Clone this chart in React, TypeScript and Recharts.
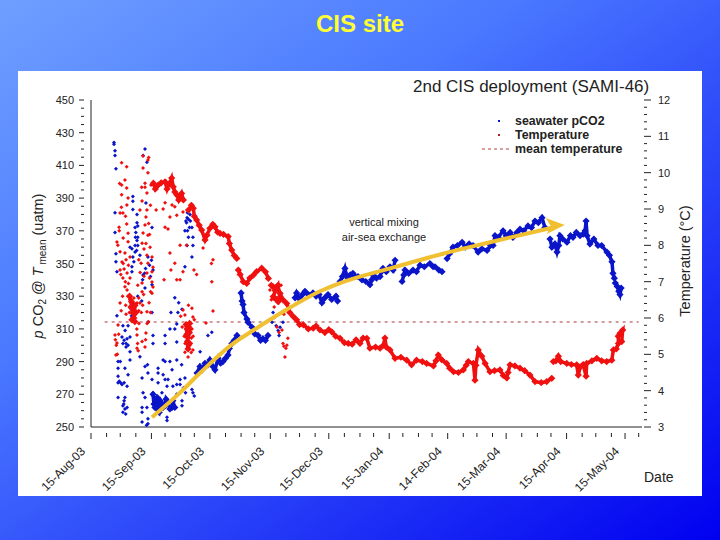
import { ComposedChart, Line, Scatter, XAxis, YAxis, Legend } from 'recharts'

type P = [number, number]

const dateTicks = [0, 31, 61, 92, 122, 153, 183, 213, 244, 274]
const dateLabels = ['15-Aug-03', '15-Sep-03', '15-Oct-03', '15-Nov-03', '15-Dec-03', '15-Jan-04', '14-Feb-04', '15-Mar-04', '15-Apr-04', '15-May-04']
const minorDateTicks = [8, 15, 23, 38, 46, 53, 69, 77, 84, 100, 107, 115, 130, 138, 145, 160, 168, 175, 191, 198, 206, 221, 229, 236, 252, 259, 267, 281]
const pco2Ticks = [250, 255, 260, 265, 270, 275, 280, 285, 290, 295, 300, 305, 310, 315, 320, 325, 330, 335, 340, 345, 350, 355, 360, 365, 370, 375, 380, 385, 390, 395, 400, 405, 410, 415, 420, 425, 430, 435, 440, 445, 450]
const tempTicks = [3, 3.2, 3.4, 3.6, 3.8, 4, 4.2, 4.4, 4.6, 4.8, 5, 5.2, 5.4, 5.6, 5.8, 6, 6.2, 6.4, 6.6, 6.8, 7, 7.2, 7.4, 7.6, 7.8, 8, 8.2, 8.4, 8.6, 8.8, 9, 9.2, 9.4, 9.6, 9.8, 10, 10.2, 10.4, 10.6, 10.8, 11, 11.2, 11.4, 11.6, 11.8, 12]

// scattered early readings, [day since 15-Aug, uatm]
const bluePoints: P[] = [
  [11.8, 424], [11.8, 423], [12.3, 419], [12.3, 416], [12.8, 408], [27.7, 420], [26.7, 416], [28.7, 412], [21.5, 391], [21.5, 388], [28.2, 387], [21.5, 383],
  [12.3, 381], [23.6, 380], [23.6, 375], [22.6, 372], [24, 373], [31.3, 372], [12.3, 369], [23.6, 364], [22.6, 361], [24, 366], [20, 360], [22.6, 357], [21, 359], [25.1, 355],
  [12.8, 356], [12.8, 351], [21, 348], [13.3, 345], [26.7, 343], [27.5, 344], [29.2, 354], [31.8, 346], [49.3, 378], [50.8, 380], [48.2, 370], [51.8, 372], [52.3, 366],
  [49.3, 361], [52.3, 361], [51.8, 354], [48.2, 348], [49, 375], [50, 377], [49.5, 370], [43, 329], [45, 326], [46.7, 322], [41, 320], [44.6, 320], [44, 313], [43, 310],
  [40.5, 310], [38, 306], [31.8, 306], [31.8, 301], [38, 301], [44, 302], [29.2, 314], [31.3, 320], [37, 291], [38, 290], [40.5, 290], [44, 291], [27.7, 287], [29, 288],
  [34.4, 286], [29.2, 283], [34.4, 283], [37, 282], [41.6, 285], [26.2, 280], [31.3, 279], [38, 279], [39.5, 279], [45.7, 279], [48.2, 280], [34.4, 277], [39, 275],
  [42, 275], [44, 276], [45.7, 276], [26.7, 271], [27.7, 268], [31.8, 271], [36.4, 271], [44, 270], [52.3, 271], [51.8, 273], [53, 269], [26.2, 262], [28.7, 262],
  [26.2, 259], [29.2, 255], [29.2, 252], [28.5, 251], [26.2, 253], [39, 256], [39, 254], [46.7, 263], [46.7, 266], [16.4, 263], [18.5, 262], [16.4, 259], [17, 266], [13.9, 268], [17.4, 268],
  [13.9, 277], [15.9, 276], [17, 277], [18.5, 275], [13.9, 281], [19, 282], [13.9, 286], [17.4, 286], [13.9, 290], [15, 290], [20, 291], [20, 296], [25.1, 293],
  [16.4, 301], [18.5, 304], [15.9, 305], [20, 305], [18, 301], [17, 303], [16.4, 312], [19, 312], [13.3, 318], [20, 323], [27.7, 335], [31.3, 337], [24, 330], [26, 327], [92.9, 314], [93.4, 320], [94, 317],
  [96, 309], [95, 312], [98.5, 314], [97, 311], [96.5, 306], [60, 306], [62, 308], [56, 296],
  [16.8, 264], [17.4, 261], [17.8, 258], [14.5, 278], [15.2, 277], [24, 361], [23, 369], [22.8, 366], [23.4, 358], [21.5, 354], [21, 345], [22, 351], [26.5, 340], [28, 347], [31, 352], [30.5, 342], [30, 349],
  [17.5, 309], [18, 299], [19, 300], [20.8, 318], [21.5, 325], [22, 316], [50, 366], [50.5, 372], [49.5, 381], [48.7, 376], [51, 376], [46.5, 288], [47.5, 274], [48.5, 271],
]
const blueBlob: P[] = [[31.8, 270], [32.3, 264], [33, 266], [32.8, 262], [34, 268], [35.4, 266], [33.9, 261], [35, 259], [36, 265], [37, 262], [38, 263], [38.5, 267], [39.5, 265], [40.5, 261], [41.6, 262], [42, 266], [43, 262]]
const blueTraceA: P[] = [[54.4, 283], [55.9, 287], [57, 285], [58.5, 289], [60, 288], [61, 291], [62.5, 287], [63.6, 285], [65.2, 292], [66.5, 289], [67.7, 290], [69, 292], [70.3, 294], [71, 298], [72.3, 301], [73.5, 303], [74.9, 306]]
const blueTraceB: P[] = [[77, 332], [77.5, 327], [78, 325], [78.5, 320], [80, 316], [80.6, 314], [82.6, 311], [84, 307], [85.7, 306], [87, 303], [88.2, 304], [89.5, 303], [90.8, 306]]
const blueTraceC: P[] = [[104.7, 329], [105.5, 332], [107.2, 328], [108.5, 331], [109.8, 333], [111.5, 331], [113.9, 332], [115.5, 330], [117, 331], [118.5, 326], [120, 329], [121.6, 331], [123.5, 328], [125.7, 330], [126.5, 327]]
const blueTraceD: P[] = [[127.8, 339], [129, 342], [130.3, 347], [131, 343], [131.9, 341], [133, 343], [134.4, 344], [135.5, 342], [137, 342], [139, 340], [141, 339], [143.1, 337], [144, 340], [144.7, 343], [146.5, 341], [148.3, 342], [149, 345], [149.8, 347], [151.5, 345], [153.4, 348], [155, 346], [156, 352]]
const blueTraceE: P[] = [[159.6, 339], [160.5, 343], [161.1, 346], [163, 344], [165.2, 346], [167, 345], [168.8, 349], [171, 348], [173.9, 350], [175.5, 348], [176.5, 348], [178.5, 346], [180.1, 345]]
const blueTraceF: P[] = [[182.7, 353], [184, 356], [185.7, 360], [188, 361], [190.4, 363], [192, 360], [194, 362], [196, 361], [198.6, 357], [200.5, 359], [203.2, 358], [205, 361], [206.3, 361], [207.3, 367], [209, 366], [211.4, 370], [213, 367], [215, 369], [216.5, 366], [218.5, 369], [220.1, 371], [222, 370], [224.2, 373], [226, 372], [227.8, 376], [229.5, 375], [231.4, 378], [232.9, 372]]
const blueTraceG: P[] = [[235.5, 365], [236.5, 360], [238, 362], [239.1, 357], [240, 361], [240.6, 367], [242, 365], [244.2, 363], [246, 367], [247.3, 366], [249, 369], [250.9, 367], [252.5, 368], [253.5, 370], [254, 376], [254.5, 367], [256, 362], [258, 365], [260.1, 361], [262, 361], [264.7, 357], [266, 355], [267.3, 351], [267.8, 344], [268.5, 341]]
const blueTraceH: P[] = [[269, 338], [270, 336], [270.8, 333], [271.4, 331], [272, 335]]

// temperature trace, [day, deg C]
const redTraceA: P[] = [[32, 9.71], [33, 9.55], [34.5, 9.66], [36, 9.72], [38, 9.75], [39, 9.55], [39.7, 9.66], [40.5, 9.72], [41.4, 9.85], [42.2, 9.61], [43, 9.47], [44, 9.39], [45, 9.25], [46.5, 9.43], [47.4, 9.25]]
const redTraceB: P[] = [[50, 8.97], [51.5, 9.1], [52.5, 9.02], [53, 8.8], [54.2, 8.7], [55.5, 8.55], [56.8, 8.42], [58.5, 8.15], [59.5, 8.28], [61, 8.47], [62.5, 8.58], [63.6, 8.51], [65, 8.36], [66.2, 8.33], [68, 8.3], [70.4, 8.24], [71, 8.05], [72.2, 7.87], [73.5, 7.72], [74.8, 7.64]]
const redTraceC: P[] = [[75.6, 7.32], [76.5, 7.2], [78.1, 7], [79.9, 6.95], [81.5, 7.1], [83.3, 7.18], [85, 7.28], [87.6, 7.37], [89.5, 7.27], [91, 7.09]]
const redTraceD: P[] = [[93.5, 6.86], [95.3, 6.86], [93.5, 6.59], [96, 6.45], [97, 6.68], [98.5, 6.5], [100.4, 6.4], [102, 6.15], [103.8, 6.04], [105.5, 5.95], [107, 5.82], [109, 5.81], [111.5, 5.7], [114, 5.72], [115.5, 5.78], [117.5, 5.67], [120, 5.6], [122, 5.68], [123.5, 5.62], [125.5, 5.5], [127.8, 5.44], [130, 5.32], [132, 5.3], [134, 5.28], [136, 5.4], [138, 5.3], [139.6, 5.45], [141.5, 5.44], [143.1, 5.17], [146, 5.2], [148.3, 5.17], [150, 5.25], [150.8, 5.45], [151.5, 5.2], [153.4, 5.12], [156, 4.89], [159, 4.92], [162, 4.84], [164.5, 4.71], [167, 4.84], [170, 4.8], [172.2, 4.75], [175.7, 4.68], [177, 4.82], [178.2, 4.98], [180, 4.85], [182.5, 4.75], [184, 4.62], [186, 4.52], [188.5, 4.5], [191, 4.57], [192.5, 4.7], [193.6, 4.8], [196.2, 4.75], [197, 4.29], [197.5, 4.7], [198.7, 5.12], [200.5, 4.95], [202.2, 4.75], [204.7, 4.52], [207, 4.55], [209.8, 4.57], [211.5, 4.42], [213.3, 4.35], [214, 4.5], [215, 4.71], [217.5, 4.68], [220.1, 4.62], [222.5, 4.55], [225.2, 4.43], [227.8, 4.25], [231, 4.22], [233.8, 4.25], [236.4, 4.34]]
const redTraceE: P[] = [[237.2, 4.8], [238.5, 4.82], [239.8, 4.95], [241, 4.8], [244.1, 4.75], [246.5, 4.72], [249.2, 4.71], [250, 4.43], [251, 4.65], [252.5, 4.72], [254, 4.4], [254.3, 4.75], [257, 4.82], [259.5, 4.89], [262, 4.82], [264.6, 4.8], [267.2, 4.84], [268, 5.12], [269.5, 5.15], [270.6, 5.3], [270.5, 5.5], [271.4, 5.58], [272.8, 5.67], [272.3, 5.35]]
const redBlob: P[] = [[21.5, 6.14], [20.5, 6.3], [22, 6], [22.6, 6.35], [21, 5.95], [23, 6.15], [20.8, 6.45], [19.8, 6.6], [22.5, 5.9]]
const redBlob2: P[] = [[49.8, 5.7], [49.2, 5.55], [50.5, 5.6], [49.5, 5.35], [50.6, 5.3], [49.8, 5.15], [48.8, 5.82], [50.6, 5.85]]
const redBlob3: P[] = [[92.5, 6.9], [94.5, 6.75], [96, 6.9], [97, 6.55], [94, 6.55], [96, 6.5]]

const redPoints: P[] = [
  [18.3, 10.16], [15.7, 10.27], [17.4, 9.8], [15.7, 9.66], [18.3, 9.58], [15.7, 9.39], [19, 9.3], [18.4, 9.11], [14.9, 8.89], [16.4, 8.89], [18.3, 8.59], [14.4, 8.5], [14.5, 8.4], [19, 8.33], [13.3, 8.09],
  [13.8, 8.0], [14.9, 7.82], [17.4, 7.79], [15.9, 7.54], [20, 7.68], [14.9, 7.32], [18.5, 7.24], [16.4, 7.1], [20, 7.1], [17.4, 6.86], [29.2, 10.35], [29.6, 10.42], [26.7, 10.46], [26.7, 10.13],
  [29.2, 10], [27.7, 9.71], [27.7, 9.6], [30.8, 9.66], [28.7, 9.44], [26.2, 9.22], [25.1, 8.97], [28.7, 8.97], [28.2, 8.78], [27.7, 8.56], [26.7, 8.34], [29.2, 8.28], [30, 8.3], [26.2, 8.06],
  [28.7, 7.73], [31.3, 7.68], [25.7, 7.51], [29.2, 7.51], [31.8, 7.4], [31.3, 7.27], [28.7, 7.24], [26.2, 6.96], [31.3, 6.99], [33.4, 8.97], [37, 9], [38, 9.17], [41.6, 9.11], [43, 9.06], [40.5, 8.78],
  [44, 8.83], [47.2, 8.92], [38, 8.5], [39.5, 8.45], [45.7, 8], [49, 8], [40.5, 7.79], [43, 7.51], [41, 7.32], [47.2, 7.27], [52.8, 7.32], [37.5, 7.05], [44, 7.05], [45.7, 7.05], [62, 7], [62.6, 7.6], [61.8, 7.5], [57.5, 7.93],
  [14.9, 6.41], [18.5, 6.77], [19, 6.6], [23.6, 6.41], [28.7, 6.17], [31.3, 6.68], [30.6, 6.72], [26.2, 6.72], [27, 6.65], [12.3, 5.53], [12.5, 5.4], [13.3, 5.31], [12.8, 4.98], [13.5, 5.0], [13.9, 5.81], [23.6, 5.53], [23.6, 5.17],
  [23.9, 5.3], [23.5, 5.7], [28.2, 5.59], [27.7, 5.2], [28, 5.4], [22.6, 5.89], [21, 6.3], [25.1, 6.41], [24.5, 6.55], [22, 6.55], [20, 6.5], [49.8, 5.67], [49, 5.48], [50.8, 5.26], [48.2, 6.08], [52.3, 6.03], [47.2, 6.22],
  [51.8, 6.27], [49.8, 4.93], [48.2, 5.06], [52.3, 5.12], [49.5, 5.8], [50, 5.55], [48.5, 5.7], [51, 5.75], [51.5, 5.45], [49.5, 5.2], [62.6, 6.19], [59, 5.86], [100, 5.17], [99.5, 4.93], [101, 5.44], [98.5, 5.3], [100.5, 5.25], [99, 5.22],
  [95.4, 5.75], [98, 5.67], [96.5, 5.6], [91.8, 6.77], [92.5, 6.5], [94, 6.3], [92.5, 6.9], [97.5, 6.9], [99, 6.1], [96.5, 6.1],
  [16.5, 7.5], [17, 7.35], [18, 7.6], [19.2, 7.45], [15.3, 7.2], [17.6, 7.0], [19.2, 6.95], [16.2, 6.6], [17.8, 6.35], [15.5, 6.2], [19.7, 6.15], [18, 6.1], [24, 6.9], [24.5, 6.2], [25.8, 6.15], [26.5, 6.35], [29.8, 6.42], [30.5, 6.15], [29.5, 5.9],
  [16.5, 8.2], [19, 8.1], [17.7, 8.8], [15.6, 9.05], [14.7, 9.7], [28.2, 8.05], [30.3, 7.95], [29.6, 8.6], [27.2, 7.9], [30, 7.1], [31.8, 6.85], [27.2, 7.15], [25.2, 7.25], [24.5, 7.6], [30.5, 9.1], [26, 9.6], [26.2, 5.35], [24.6, 5.85], [28.8, 5.85], [24.2, 5.1], [13, 5.25], [14.2, 5.55],
  [47.8, 5.5], [48.3, 5.3], [51.8, 5.7], [52.4, 5.5], [46.8, 5.75], [53, 5.95], [50, 6.35], [51.4, 5.05], [46, 6.05], [54.2, 7.2],
]

const blueTraces = [blueBlob, blueTraceA, blueTraceB, blueTraceC, blueTraceD, blueTraceE, blueTraceF, blueTraceG, blueTraceH]
const redTraces = [redTraceA, redTraceB, redTraceC, redTraceD, redTraceE, redBlob, redBlob2, redBlob3]

const meanTemperature: P[] = [[7, 5.89], [281, 5.89]]
const trendArrow: P[] = [[31.3, 256], [45.7, 271], [55.9, 283], [72.9, 301], [83.1, 309], [100.6, 322], [117.5, 333], [127.8, 338], [153.4, 347], [180.6, 356], [204.7, 363], [237, 372]]
const arrowTip: P[] = [[241, 373.5]]

const asPco2 = (rows: P[]) => rows.map(([d, v]) => ({ d, v }))
const asTemp = (rows: P[]) => rows.map(([d, t]) => ({ d, t }))

const font = 'Liberation Sans, Arial, sans-serif'
const BLUE = '#0a14c8'
const RED = '#f01010'
const INK = '#222'
const GOLD = '#f0c030'

function Dot({ cx, cy, fill }: any) {
  return <path d={`M${cx - 2} ${cy}L${cx} ${cy - 2}L${cx + 2} ${cy}L${cx} ${cy + 2}Z`} fill={fill} />
}

function TraceDot({ cx, cy, stroke }: any) {
  return <path d={`M${cx - 3.6} ${cy}L${cx} ${cy - 3.6}L${cx + 3.6} ${cy}L${cx} ${cy + 3.6}Z`} fill={stroke} />
}

function ArrowHead({ cx, cy }: any) {
  return <path d={`M${cx + 4} ${cy}L${cx - 15} ${cy - 7}L${cx - 10} ${cy + 1}L${cx - 14} ${cy + 9}Z`} fill={GOLD} />
}

function LeftTick({ x, y, payload }: any) {
  const major = (payload.value - 250) % 20 === 0
  return (
    <g>
      <line x1={x + 1} x2={major ? x - 4 : x - 2} y1={y} y2={y} stroke={INK} />
      {major && <text x={x - 9} y={y + 4} textAnchor="end" fontSize={11} fill={INK} fontFamily={font}>{payload.value}</text>}
    </g>
  )
}

function RightTick({ x, y, payload }: any) {
  const major = Number.isInteger(payload.value)
  return (
    <g>
      <line x1={x - 6} x2={major ? x + 1 : x - 3} y1={y} y2={y} stroke={INK} />
      {major && <text x={x + 8} y={y + 4} fontSize={11} fill={INK} fontFamily={font}>{payload.value}</text>}
    </g>
  )
}

function DateTick({ x, y, payload }: any) {
  const i = dateTicks.indexOf(payload.value)
  return (
    <g>
      <line x1={x} x2={x} y1={y - 2} y2={i >= 0 ? y + 4 : y + 2} stroke={INK} />
      {i >= 0 && (
        <text x={x - 5} y={y + 17} textAnchor="end" fontSize={12} fill={INK} fontFamily={font} transform={`rotate(-45 ${x - 5} ${y + 17})`}>
          {dateLabels[i]}
        </text>
      )}
    </g>
  )
}

function LegendBox() {
  return (
    <svg width={170} height={50} style={{ display: 'block' }}>
      <rect x={17} y={6} width={2} height={2} fill={BLUE} />
      <rect x={17} y={20} width={2} height={2} fill="#b02020" />
      <line x1={1} x2={30} y1={35} y2={35} stroke="#b04040" strokeDasharray="3 3" />
      <g fontSize={12.4} fontWeight={700} fill={INK} fontFamily={font}>
        <text x={34} y={11}>seawater pCO2</text>
        <text x={34} y={25}>Temperature</text>
        <text x={34} y={39}>mean temperature</text>
      </g>
    </svg>
  )
}

export default function App() {
  const arrowLayer: any = { zIndex: 900 }
  return (
    <div style={{ position: 'absolute', left: 0, top: 0, width: 720, height: 540, overflow: 'hidden', background: 'linear-gradient(145deg, #6f9fff 0%, #4a78ff 35%, #0000f0 100%)', fontFamily: font }}>
      <div style={{ position: 'absolute', left: 0, width: 720, top: 10, textAlign: 'center', color: '#ffff33', fontSize: 24, fontWeight: 700 }}>CIS site</div>
      <div style={{ position: 'absolute', left: 18, top: 71, width: 684, height: 425, background: '#fff' }}>
        <ComposedChart width={684} height={425} margin={{ top: 29, right: 0, bottom: 0, left: 0 }}>
          <XAxis
            xAxisId="date" type="number" dataKey="d" domain={[0, 282.7]} height={69} allowDataOverflow
            ticks={[...dateTicks, ...minorDateTicks].sort((a, b) => a - b)} interval={0} tick={<DateTick />} tickLine={false} axisLine={{ stroke: INK }}
          />
          <YAxis yAxisId="pco2" type="number" dataKey="v" orientation="left" width={73} domain={[250, 450]} ticks={pco2Ticks} interval={0} tick={<LeftTick />} tickLine={false} axisLine={{ stroke: INK }} />
          <YAxis yAxisId="temp" type="number" dataKey="t" orientation="right" width={60} domain={[3, 12]} ticks={tempTicks} interval={0} tick={<RightTick />} tickLine={false} axisLine={false} />

          <Line xAxisId="date" yAxisId="temp" data={asTemp(meanTemperature)} dataKey="t" stroke="#a83838" strokeWidth={1} strokeDasharray="3 4" dot={false} isAnimationActive={false} />
          <Scatter xAxisId="date" yAxisId="pco2" data={asPco2(bluePoints)} fill={BLUE} shape={<Dot />} isAnimationActive={false} />
          {blueTraces.map((rows, i) => (
            <Line key={i} xAxisId="date" yAxisId="pco2" data={asPco2(rows)} dataKey="v" stroke={BLUE} strokeWidth={3.5} dot={<TraceDot />} isAnimationActive={false} />
          ))}
          <Scatter xAxisId="date" yAxisId="temp" data={asTemp(redPoints)} fill={RED} shape={<Dot />} isAnimationActive={false} />
          {redTraces.map((rows, i) => (
            <Line key={i} xAxisId="date" yAxisId="temp" data={asTemp(rows)} dataKey="t" stroke={RED} strokeWidth={3.5} dot={<TraceDot />} isAnimationActive={false} />
          ))}
          <Line {...arrowLayer} xAxisId="date" yAxisId="pco2" data={asPco2(trendArrow)} dataKey="v" type="monotone" stroke={GOLD} strokeWidth={4} dot={false} isAnimationActive={false} />
          <Scatter {...arrowLayer} xAxisId="date" yAxisId="pco2" data={asPco2(arrowTip)} shape={<ArrowHead />} isAnimationActive={false} />
          <Legend content={<LegendBox />} layout="vertical" verticalAlign="middle" align="center" wrapperStyle={{ position: 'absolute', left: 463, top: 43, width: 170, height: 50 }} />

          <text x={395} y={21} fontSize={17} textAnchor="start" fill={INK} fontFamily={font}>2nd CIS deployment (SAMI-46)</text>
          <text x={366} y={155} fontSize={11} textAnchor="middle" fill={INK} fontFamily={font}>vertical mixing</text>
          <text x={366} y={170} fontSize={11} textAnchor="middle" fill={INK} fontFamily={font}>air-sea exchange</text>
          <text x={626} y={411} fontSize={14} fill={INK} fontFamily={font}>Date</text>
          <text transform="rotate(-90 25 195)" x={25} y={195} fontSize={14.5} textAnchor="middle" fill={INK} fontFamily={font}>
            <tspan fontStyle="italic">p</tspan> CO<tspan fontSize={10} dy={3}>2</tspan><tspan dy={-3}> @ </tspan><tspan fontStyle="italic">T</tspan><tspan fontSize={10} dy={3}> mean</tspan><tspan dy={-3}> (uatm)</tspan>
          </text>
          <text transform="rotate(-90 672 190)" x={672} y={190} fontSize={14.5} textAnchor="middle" fill={INK} fontFamily={font}>Temperature (°C)</text>
        </ComposedChart>
      </div>
    </div>
  )
}
